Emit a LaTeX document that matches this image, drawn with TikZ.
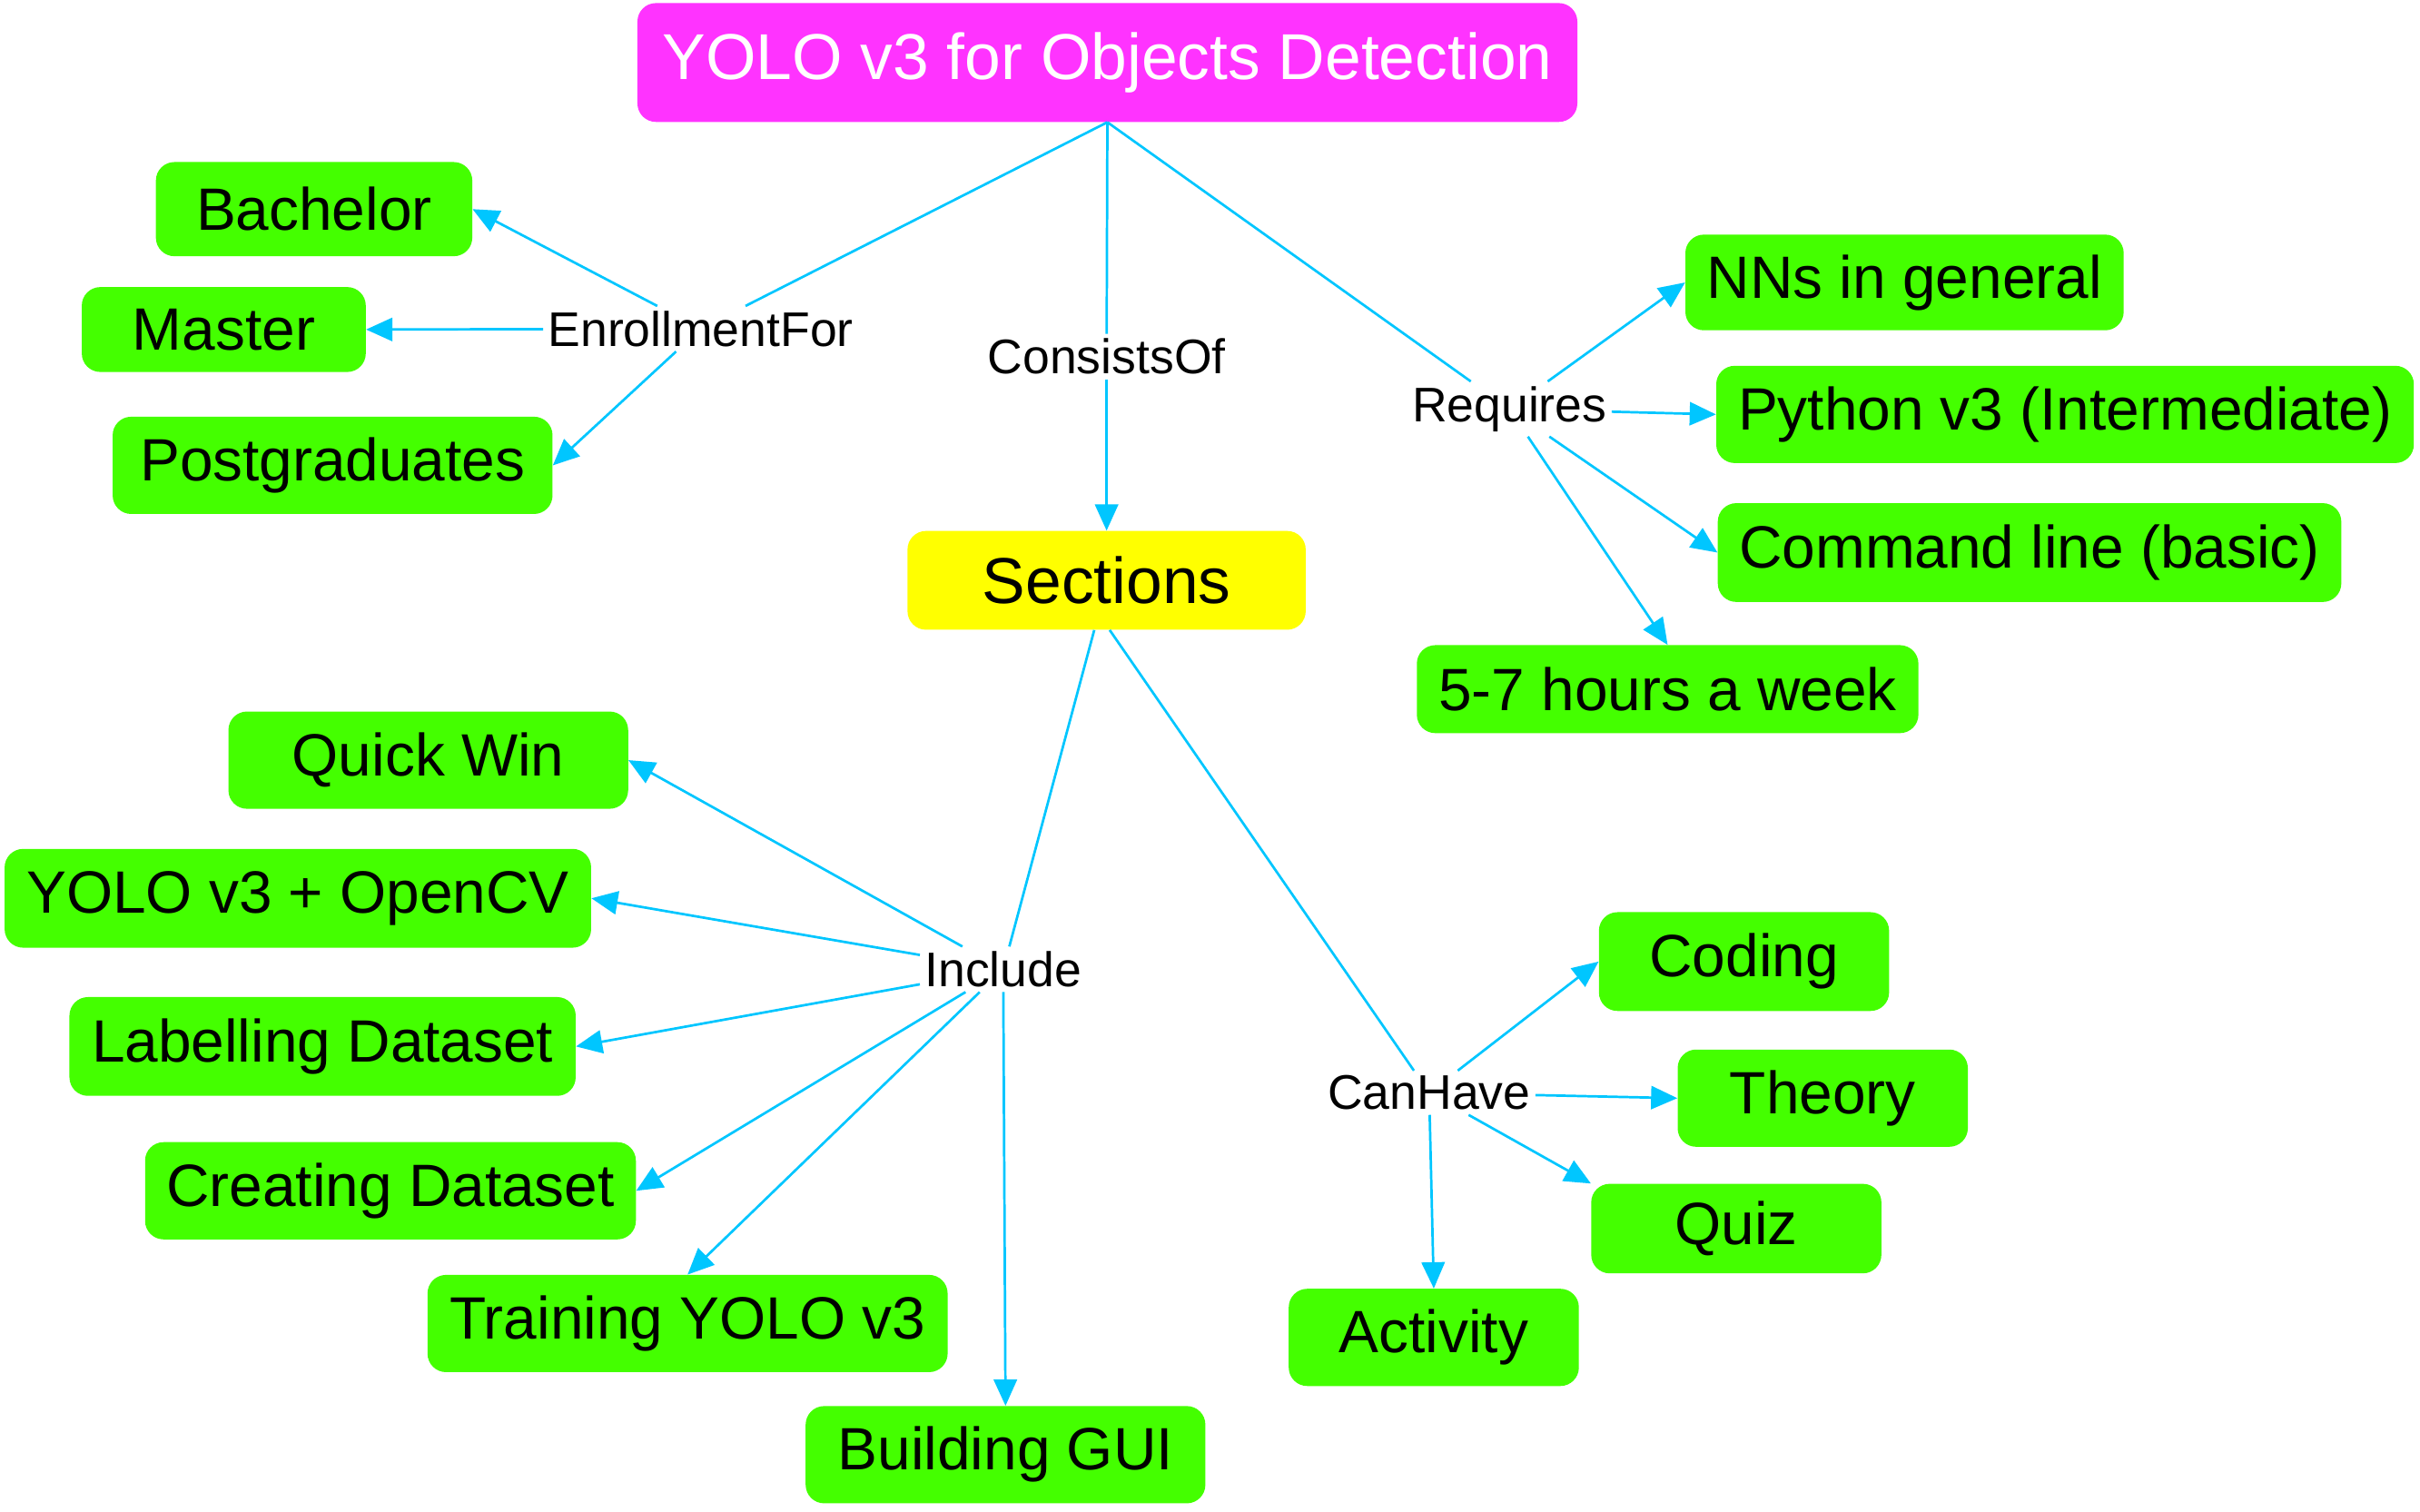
\documentclass[tikz,border=0pt]{standalone}
\usepackage{fontspec}
\setmainfont{Liberation Sans}
\usetikzlibrary{arrows.meta}
\definecolor{boxgreen}{RGB}{68,255,0}
\definecolor{boxmag}{RGB}{255,51,255}
\definecolor{boxyel}{RGB}{255,255,0}
\definecolor{linkblue}{RGB}{0,198,255}
\tikzset{
  item/.style={fill=boxgreen, rounded corners=12pt, inner sep=0pt, minimum height=63pt,
    font=\fontsize{38.7}{46}\selectfont, text=black},
  rel/.style={inner sep=3pt, font=\fontsize{31.5}{38}\selectfont, text=black},
  link/.style={draw=linkblue, line width=1.6pt},
  arr/.style={link, -{Triangle[length=17pt,width=15pt]}}
}
\begin{document}
\begin{tikzpicture}[x=1pt,y=-1pt]
\useasboundingbox (0,0) rectangle (1568,979.6);
% main nodes
\node[fill=boxmag, rounded corners=12pt, inner sep=0pt, minimum width=609pt, minimum height=77pt,
  font=\fontsize{42}{50}\selectfont, text=white] (title) at (717.5,40.5) {YOLO v3 for Objects Detection};
\node[fill=boxyel, rounded corners=12pt, inner sep=0pt, minimum width=258pt, minimum height=64pt,
  font=\fontsize{42}{50}\selectfont, text=black] (sec) at (717,376) {Sections};
% relation labels
\node[rel] (enr) at (454,213) {EnrollmentFor};
\node[rel] (cons) at (717,231) {ConsistsOf};
\node[rel] (req) at (978,265) {Requires};
\node[rel] (inc) at (650,628) {Include};
\node[rel] (can) at (926,708) {CanHave};
% leaves
\node[item, minimum width=205pt, minimum height=61pt] (bach) at (203.5,135.5) {Bachelor};
\node[item, minimum width=184pt, minimum height=55pt] (mast) at (145,213.5) {Master};
\node[item, minimum width=285pt] (post) at (215.5,301.5) {Postgraduates};
\node[item, minimum width=284pt, minimum height=62pt] (nns) at (1234,183) {NNs in general};
\node[item, minimum width=452pt] (py) at (1338,268.5) {Python v3 (Intermediate)};
\node[item, minimum width=404pt, minimum height=64pt] (cmd) at (1315,358) {Command line (basic)};
\node[item, minimum width=325pt, minimum height=57pt] (hrs) at (1080.5,446.5) {5-7 hours a week};
\node[item, minimum width=259pt] (qw) at (277.5,492.5) {Quick Win};
\node[item, minimum width=380pt, minimum height=64pt] (ocv) at (193,582) {YOLO v3 + OpenCV};
\node[item, minimum width=328pt, minimum height=64pt] (lab) at (209,678) {Labelling Dataset};
\node[item, minimum width=318pt] (cre) at (253,771.5) {Creating Dataset};
\node[item, minimum width=337pt] (tra) at (445.5,857.5) {Training YOLO v3};
\node[item, minimum width=259pt] (gui) at (651.5,942.5) {Building GUI};
\node[item, minimum width=188pt, minimum height=64pt] (cod) at (1130,623) {Coding};
\node[item, minimum width=188pt] (the) at (1181,711.5) {Theory};
\node[item, minimum width=188pt, minimum height=58pt] (quiz) at (1125,796) {Quiz};
\node[item, minimum width=188pt] (act) at (929,866.5) {Activity};
% connectors from title
\draw[link] (title.south) -- (enr);
\draw[link] (title.south) -- (cons);
\draw[link] (title.south) -- (req);
\draw[arr] (cons) -- (sec.north);
\draw[link] ([xshift=-8pt]sec.south) -- (inc);
\draw[link] ([xshift=2pt]sec.south) -- (can);
% EnrollmentFor
\draw[arr] (enr) -- (bach.east);
\draw[arr] (enr) -- (mast.east);
\draw[arr] (enr) -- (post.east);
% Requires
\draw[arr] (req) -- (nns.west);
\draw[arr] (req) -- (py.west);
\draw[arr] (req) -- (cmd.west);
\draw[arr] (req) -- (hrs.north);
% Include
\draw[arr] (inc) -- (qw.east);
\draw[arr] (inc) -- (ocv.east);
\draw[arr] (inc) -- (lab.east);
\draw[arr] (inc) -- (cre.east);
\draw[arr] (inc) -- (tra.north);
\draw[arr] (inc) -- (gui.north);
% CanHave
\draw[arr] (can) -- (cod.west);
\draw[arr] (can) -- (the.west);
\draw[arr] (can) -- (quiz.north west);
\draw[arr] (can) -- (act.north);
\end{tikzpicture}
\end{document}
